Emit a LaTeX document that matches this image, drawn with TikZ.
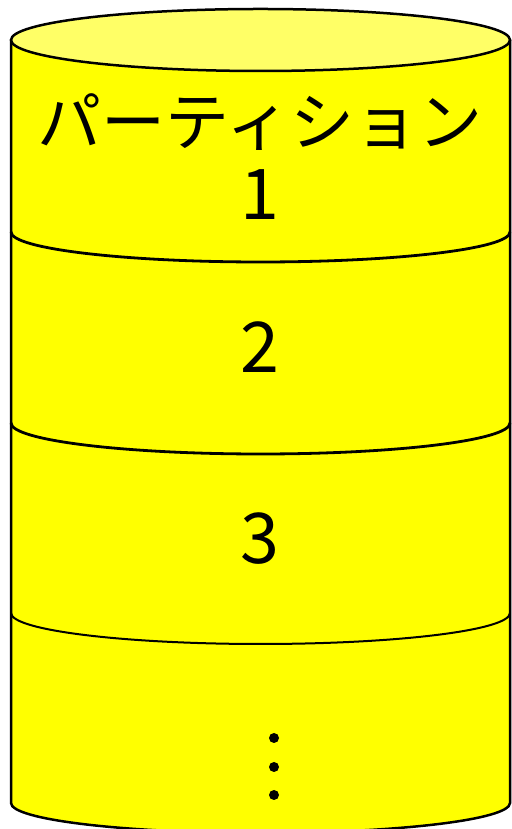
\documentclass[tikz,border=0pt]{standalone}
\usepackage{fontspec}
\usepackage{xcolor}
\usepackage{tikz}
\newfontfamily\jpfont{Noto Sans CJK JP}
\definecolor{bodyyellow}{HTML}{FFFF00}
\definecolor{topyellow}{HTML}{FFFF66}

\tikzset{
  partlabel/.style={font=\jpfont\fontsize{70}{70}\selectfont,inner sep=0pt},
  divider/.style={line width=2.8pt}
}

\begin{document}
\begin{tikzpicture}[x=1pt,y=1pt]
  \useasboundingbox (0,0) rectangle (511,829);
  % body of the cylinder
  \fill[bodyyellow] (11,789) -- (11,26)
    arc[start angle=180,end angle=360,x radius=249.5,y radius=30]
    -- (510,789) -- cycle;
  \draw[line width=2.5pt] (11,789) -- (11,26)
    arc[start angle=180,end angle=360,x radius=249.5,y radius=30]
    -- (510,789);
  % top face
  \draw[line width=2.5pt,fill=topyellow] (260.5,789) ellipse[x radius=249.5,y radius=31];
  % partition borders
  \draw[divider] (11,597) arc[start angle=180,end angle=360,x radius=249.5,y radius=30];
  \draw[divider] (11,406) arc[start angle=180,end angle=360,x radius=249.5,y radius=31];
  \draw[line width=2pt] (11,216) arc[start angle=180,end angle=360,x radius=249.5,y radius=31];
  % labels
  \node[inner sep=0pt,align=center,font=\jpfont\fontsize{64}{74}\selectfont] (part1) at (260,672)
    {パーティション\\{\fontsize{70}{74}\selectfont 1}};
  \node[partlabel] (part2) at (260,482) {2};
  \node[partlabel] (part3) at (260,290) {3};
  % more partitions
  \foreach \y in {91,62,34}
    \fill (274,\y) circle (5);
\end{tikzpicture}
\end{document}
